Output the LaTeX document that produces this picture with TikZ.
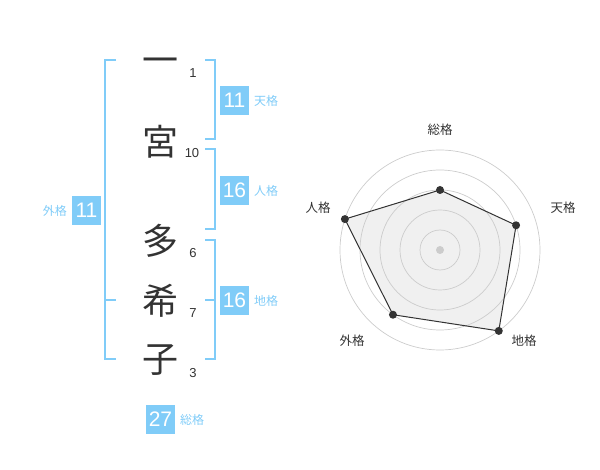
\documentclass[tikz,border=0pt]{standalone}
\usepackage{fontspec}
\setmainfont{Liberation Sans}
\newfontfamily\cjk{Noto Sans CJK JP}
\definecolor{accent}{HTML}{80CCF8}
\definecolor{ink}{HTML}{333333}
\definecolor{ring}{HTML}{CCCCCC}
\definecolor{area}{HTML}{F0F0F0}
\begin{document}
\begin{tikzpicture}[x=1pt,y=-1pt,
  kanji/.style={font=\cjk\fontsize{36}{36}\selectfont, text=ink, inner sep=0pt},
  stroke/.style={font=\fontsize{13}{13}\selectfont, text=ink, inner sep=0pt},
  valbox/.style={fill=accent, text=white, minimum width=29pt, minimum height=29pt, inner sep=0pt, font=\fontsize{21}{21}\selectfont},
  kaku/.style={text=accent, font=\cjk\fontsize{12}{12}\selectfont, inner sep=0pt, anchor=west},
  brk/.style={draw=accent, line width=2pt},
  axislbl/.style={text=ink, font=\cjk\fontsize{12.5}{12.5}\selectfont, inner sep=0pt},
  dot/.style={circle, fill=ink, inner sep=0pt, minimum size=8pt}
]
\useasboundingbox (0,0) rectangle (600,470);
% kanji
\node[kanji] (k1) at (160,66) {一};
\node[kanji] (k2) at (160,142) {宮};
\node[kanji] (k3) at (160,241) {多};
\node[kanji] (k4) at (160,301) {希};
\node[kanji] (k5) at (160,360) {子};
% stroke counts
\node[stroke] (s1) at (193,73) {1};
\node[stroke] (s2) at (192,153) {10};
\node[stroke] (s3) at (193,253) {6};
\node[stroke] (s4) at (193,313) {7};
\node[stroke] (s5) at (193,373) {3};
% brackets
\draw[brk] (116,60) -- (105,60) -- (105,359) -- (116,359);
\draw[brk] (105,300) -- (116,300);
\draw[brk] (205,60) -- (215,60) -- (215,139) -- (205,139);
\draw[brk] (205,149) -- (215,149) -- (215,229) -- (205,229);
\draw[brk] (205,240) -- (215,240) -- (215,359) -- (205,359);
\draw[brk] (205,300) -- (215,300);
% values
\node[valbox] (ten) at (234.5,100.5) {11};
\node[kaku] (tenl) at (254,101) {天格};
\node[valbox] (jin) at (234.5,190.5) {16};
\node[kaku] (jinl) at (254,191) {人格};
\node[valbox] (chi) at (234.5,300.5) {16};
\node[kaku] (chil) at (254,301) {地格};
\node[valbox] (gai) at (86.5,210.5) {11};
\node[kaku, anchor=east] (gail) at (67,211) {外格};
\node[valbox] (sou) at (160.5,419) {27};
\node[kaku] (soul) at (180,420) {総格};
% radar
\coordinate (c) at (440,250);
\path (c) ++(-90:60) coordinate (pa) (c) ++(-18:80) coordinate (pb) (c) ++(54:100) coordinate (pc) (c) ++(126:80) coordinate (pd) (c) ++(198:100) coordinate (pe);
\fill[area] (pa) -- (pb) -- (pc) -- (pd) -- (pe) -- cycle;
\foreach \r in {20,40,60,80,100} \draw[ring, line width=0.7pt] (c) circle[radius=\r];
\fill[ring] (c) circle[radius=4];
\draw[ink, line width=1pt] (pa) -- (pb) -- (pc) -- (pd) -- (pe) -- cycle;
\foreach \p in {pa,pb,pc,pd,pe} \node[dot] at (\p) {};
\node[axislbl] (la) at (440,130) {総格};
\node[axislbl] (lb) at (563,208) {天格};
\node[axislbl] (lc) at (524,341) {地格};
\node[axislbl] (ld) at (352,341) {外格};
\node[axislbl] (le) at (318,208) {人格};
\end{tikzpicture}
\end{document}
